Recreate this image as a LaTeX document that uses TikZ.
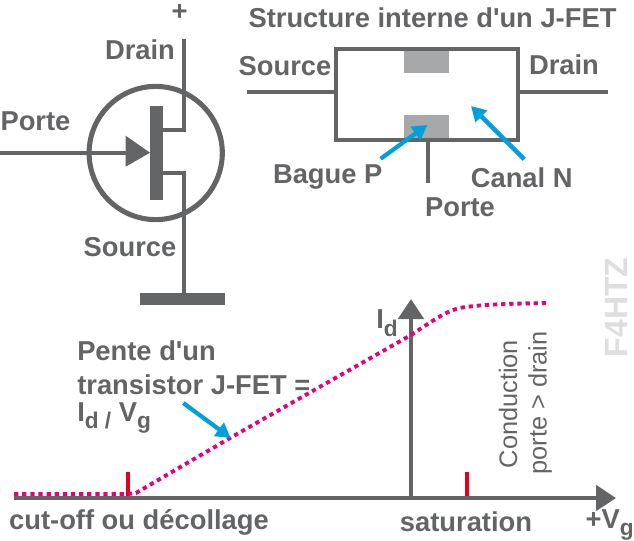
\documentclass[tikz,border=0pt]{standalone}
\usepackage{fontspec}
\setmainfont{Liberation Sans}
\usetikzlibrary{calc,arrows.meta}
\definecolor{wiregrey}{HTML}{636466}
\definecolor{bagegrey}{HTML}{A7A8AA}
\definecolor{pointerblue}{HTML}{00A0DC}
\definecolor{curvepink}{HTML}{E6007E}
\definecolor{tickred}{HTML}{E2001A}
\definecolor{stampgrey}{HTML}{DEDEDE}
\newcommand{\subtxt}[1]{\raisebox{-0.28em}{\fontsize{17pt}{17pt}\selectfont #1}}
\tikzset{
    lbl/.style={text=wiregrey, font=\fontsize{20.5pt}{20.5pt}\selectfont\bfseries, inner sep=0pt},
    thinlbl/.style={text=wiregrey, font=\fontsize{19pt}{19pt}\selectfont, inner sep=0pt, rotate=90},
    wire/.style={draw=wiregrey, line width=3pt},
    pointer/.style={draw=pointerblue, line width=3.2pt, -{Triangle[length=11pt,width=12pt]}},
    axis/.style={draw=wiregrey, line width=3pt, -{Triangle[length=15pt,width=19pt]}},
    tick/.style={draw=tickred, line width=3.2pt},
}
\begin{document}
\begin{tikzpicture}[x=0.75pt, y=-0.75pt]
    \useasboundingbox (0,0) rectangle (634,540);
    % symbole
    \coordinate (gatein) at (0,152.7);
    \coordinate (gatebar) at (150,152.7);
    \coordinate (draintop) at (183.7,39);
    \coordinate (drainknee) at (183.7,129.5);
    \coordinate (drainend) at (160,129.5);
    \coordinate (srcend) at (160,172.7);
    \coordinate (srcknee) at (183.7,172.7);
    \coordinate (srcfoot) at (183.7,294);
    \draw[draw=wiregrey, line width=3.8pt] (155.7,153) circle (66.6);
    \fill[wiregrey] (150,106) rectangle (162.7,200);
    \fill[wiregrey] (140,293) rectangle (225,305);
    \draw[wire] (gatein) -- (126,152.7);
    \fill[wiregrey] (gatebar) -- (125.7,135.7) -- (125.7,166.7) -- cycle;
    \draw[wire] (draintop) -- (drainknee) -- (drainend);
    \draw[wire] (srcend) -- (srcknee) -- (srcfoot);
    \node[lbl] (plus) at (179.5,12.5) {+};
    \node[lbl] (draina) at (140,50) {Drain};
    \node[lbl] (portea) at (35.5,121) {Porte};
    \node[lbl] (sourcea) at (130,247) {Source};

    % structure
    \node[lbl] (title) at (432.5,18) {Structure interne d\textquotesingle un J-FET};
    \fill[bagegrey] (404,50) rectangle (449.3,73);
    \fill[bagegrey] (404,115) rectangle (449.3,138);
    \draw[wire] (336.3,49) rectangle (518,140);
    \coordinate (leadl) at (246.7,92.3);
    \coordinate (boxl) at (336.3,92.3);
    \coordinate (boxr) at (518,92.3);
    \coordinate (leadr) at (607.7,92.3);
    \coordinate (boxb) at (427.7,140);
    \coordinate (leadb) at (427.7,182.7);
    \draw[wire] (leadl) -- (boxl);
    \draw[wire] (boxr) -- (leadr);
    \draw[wire] (boxb) -- (leadb);
    \node[lbl] (sourceb) at (285,66) {Source};
    \node[lbl] (drainb) at (564,65) {Drain};
    \node[lbl] (bague) at (327.7,177) {Bague P};
    \node[lbl] (canal) at (521.7,178) {Canal N};
    \node[lbl] (porteb) at (460,207) {Porte};
    \coordinate (bagueptr) at (380.7,158.7);
    \coordinate (baguetip) at (427.3,125);
    \coordinate (canalptr) at (524.3,159.3);
    \coordinate (canaltip) at (471,106);
    \draw[pointer] (bagueptr) -- (baguetip);
    \draw[pointer] (canalptr) -- (canaltip);

    % courbe
    \coordinate (vstart) at (14,498);
    \coordinate (vend) at (616,498);
    \coordinate (ifoot) at (411,498);
    \coordinate (iend) at (411,299);
    \draw[axis] (vstart) -- (vend);
    \draw[axis] (ifoot) -- (iend);
    \coordinate (tick1a) at (128,471.7);
    \coordinate (tick1b) at (128,496);
    \coordinate (tick2a) at (467.3,471.7);
    \coordinate (tick2b) at (467.3,496);
    \draw[tick] (tick1a) -- (tick1b);
    \draw[tick] (tick2a) -- (tick2b);
    \draw[curvepink, line width=2.9pt, dash pattern=on 3.2pt off 2.9pt]
        (14,494) -- (128,494) -- (136,493) -- (230,438) -- (411,335) .. controls (440,316) and (450,308) .. (470,306.5)
        .. controls (490,304) and (520,303.5) .. (547,303);
    \coordinate (penteptr) at (183.3,403);
    \coordinate (pentetip) at (230.7,438);
    \draw[pointer] (penteptr) -- (pentetip);
    \node[lbl, anchor=west] (pente1) at (77,351) {Pente d\textquotesingle un};
    \node[lbl, anchor=west] (pente2) at (77,385) {transistor J-FET =};
    \node[lbl, anchor=west] (pente3) at (77,418) {I\subtxt{d /} V\subtxt{g}};
    \node[lbl] (cutoff) at (139,522.5) {cut-off ou décollage};
    \node[lbl] (satur) at (466,521.5) {saturation};
    \node[lbl, anchor=east] (vg) at (634,525) {+V\subtxt{g}};
    \node[lbl] (id) at (387,323) {I\subtxt{d}};
    \node[thinlbl] (cond1) at (508,404) {Conduction};
    \node[thinlbl] (cond2) at (540,403) {porte > drain};
    \node[lbl, rotate=90, text=stampgrey, font=\fontsize{24pt}{24pt}\selectfont\bfseries] (stamp) at (616.5,307.5) {F4HTZ};
\end{tikzpicture}
\end{document}
